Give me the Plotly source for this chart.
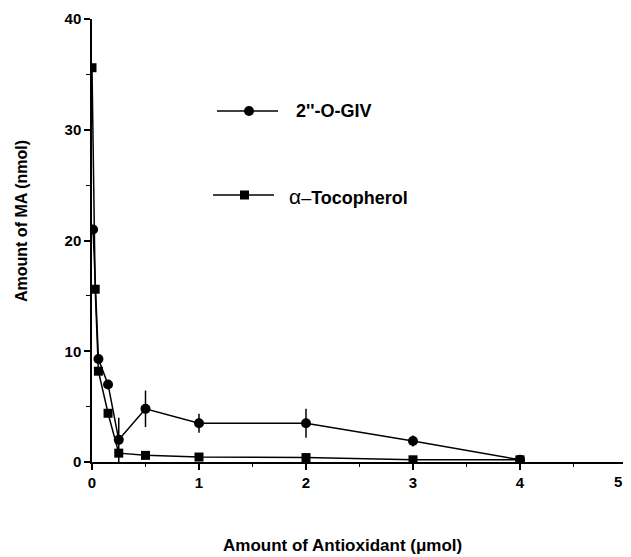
import plotly.graph_objects as go

# Data
giv_x = [0.01, 0.06, 0.15, 0.25, 0.5, 1, 2, 3, 4]
giv_y = [21.0, 9.3, 7.0, 2.0, 4.8, 3.5, 3.5, 1.9, 0.2]
giv_err = [0, 0, 0, 2.0, 1.65, 0.85, 1.3, 0.5, 0]

toc_x = [0, 0.03, 0.06, 0.15, 0.25, 0.5, 1, 2, 3, 4]
toc_y = [35.6, 15.6, 8.2, 4.4, 0.8, 0.6, 0.45, 0.4, 0.2, 0.2]
toc_err = [0, 0, 0, 0, 0, 0.3, 0.3, 0.3, 0, 0]

x_ticks = [0, 1, 2, 3, 4, 5]
y_ticks = [0, 10, 20, 30, 40]

x_title = "Amount of Antioxidant (μmol)"
y_title = "Amount of MA (nmol)"

font_family = "Liberation Sans"

fig = go.Figure()
fig.add_trace(go.Scatter(
    x=giv_x, y=giv_y, mode="lines+markers", name="2''-O-GIV",
    line=dict(color="black", width=1.5),
    marker=dict(symbol="circle", size=10, color="black"),
    error_y=dict(type="data", array=giv_err, visible=True, color="black", thickness=1.5, width=0),
    showlegend=False,
))
fig.add_trace(go.Scatter(
    x=toc_x, y=toc_y, mode="lines+markers", name="α-Tocopherol",
    line=dict(color="black", width=1.5),
    marker=dict(symbol="square", size=9, color="black"),
    error_y=dict(type="data", array=toc_err, visible=True, color="black", thickness=1.5, width=0),
    showlegend=False,
))

# page body has an 8px default margin
OFF = 8
W, H = 631 - OFF, 557 - OFF
l, t, b = 92 - OFF, 19 - OFF, 95
r = W + OFF - 627  # right edge of plot at page x=627
pw, ph = W - l - r, H - t - b

def px(x):
    return (x - OFF - l) / pw

def py(y):
    return (H + OFF - b - y) / ph

shapes = []
# circle entry
shapes.append(dict(type="line", xref="paper", yref="paper", x0=px(217), x1=px(278), y0=py(111), y1=py(111),
                   line=dict(color="black", width=1.5)))
shapes.append(dict(type="circle", xref="paper", yref="paper", x0=px(244), x1=px(254), y0=py(106), y1=py(116),
                   fillcolor="black", line=dict(color="black", width=0)))
# square entry
shapes.append(dict(type="line", xref="paper", yref="paper", x0=px(213), x1=px(274), y0=py(195), y1=py(195),
                   line=dict(color="black", width=1.5)))
shapes.append(dict(type="rect", xref="paper", yref="paper", x0=px(240), x1=px(249), y0=py(190.5), y1=py(199.5),
                   fillcolor="black", line=dict(color="black", width=0)))

annotations = [
    dict(x=px(294), y=py(111), xref="paper", yref="paper", text="<b>2''-O-GIV</b>", showarrow=False,
         xanchor="left", yanchor="middle", font=dict(family=font_family, size=18, color="black")),
    dict(x=px(287), y=py(196), xref="paper", yref="paper",
         text="<span style='font-size:21px'>α</span>–<b>Tocopherol</b>",
         showarrow=False, xanchor="left", yanchor="middle", font=dict(family=font_family, size=18, color="black")),
    dict(x=px(342), y=py(545), xref="paper", yref="paper", text=f"<b>{x_title}</b>", showarrow=False,
         xanchor="center", yanchor="middle", font=dict(family=font_family, size=17, color="black")),
    dict(x=px(21), y=py(221), xref="paper", yref="paper", text=f"<b>{y_title}</b>", showarrow=False,
         textangle=-90, xanchor="center", yanchor="middle", font=dict(family=font_family, size=16, color="black")),
    # last x tick label drawn as annotation so it is not hidden at the page edge
    dict(x=px(623), y=py(481), xref="paper", yref="paper", text=f"<b>{x_ticks[-1]}</b>", showarrow=False,
         xanchor="right", yanchor="middle", borderpad=0,
         font=dict(family=font_family, size=15, color="black")),
]

fig.update_layout(
    width=W, height=H,
    margin=dict(l=l, r=r, t=t, b=b, autoexpand=False),
    plot_bgcolor="white", paper_bgcolor="white",
    shapes=shapes, annotations=annotations,
    font=dict(family=font_family, color="black"),
)
fig.update_xaxes(
    range=[0, 5], tickvals=x_ticks,
    ticktext=[f"<b>{v}</b>" if v != x_ticks[-1] else "" for v in x_ticks],
    showline=True, linecolor="black", linewidth=1.5, ticks="outside", ticklen=6, tickwidth=1.5,
    tickcolor="black", showgrid=False, zeroline=False, automargin=False,
    minor=dict(dtick=0.5, ticks="outside", ticklen=3, tickcolor="black", tickwidth=1),
    tickfont=dict(family=font_family, size=15, color="black"),
)
fig.update_yaxes(
    range=[0, 40], tickvals=y_ticks, ticktext=[f"<b>{v}</b>" for v in y_ticks],
    showline=True, linecolor="black", linewidth=1.5, ticks="outside", ticklen=6, tickwidth=1.5,
    tickcolor="black", showgrid=False, zeroline=False, automargin=False,
    minor=dict(dtick=5, ticks="outside", ticklen=4, tickcolor="black", tickwidth=1),
    tickfont=dict(family=font_family, size=15, color="black"),
)

fig.write_html("out.html")
